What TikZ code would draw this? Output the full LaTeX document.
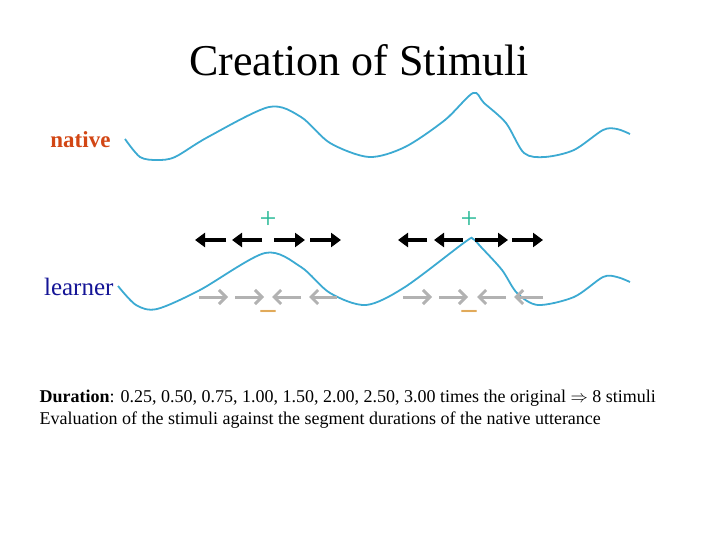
\documentclass[tikz,border=0pt]{standalone}
\usepackage{fontspec}
\setmainfont{Liberation Serif}
\usetikzlibrary{arrows.meta}
\definecolor{curve}{RGB}{60,170,210}
\definecolor{nat}{RGB}{210,70,20}
\definecolor{lrn}{RGB}{20,20,150}
\definecolor{plus}{RGB}{40,185,150}
\definecolor{minus}{RGB}{225,170,90}
\tikzset{
  wave/.style={curve,line width=1.8pt,smooth,tension=0.5},
  blk/.style={black,line width=4pt,-{Triangle[length=10pt,width=14pt]}},
  gry/.style={black!30,line width=3pt,-{Straight Barb[length=7pt,width=14pt]}},
}
\begin{document}
\begin{tikzpicture}[x=1pt,y=-1pt]
\useasboundingbox (0,0) rectangle (720,540);
\node (title) at (359,60) {\fontsize{44}{46}\selectfont Creation of Stimuli};
\node[anchor=east,text=nat,font=\fontsize{23}{25}\selectfont\bfseries] (native) at (114,140) {native};
\node[anchor=east,text=lrn,font=\fontsize{25}{27}\selectfont] (learner) at (117,287) {learner};
\draw[wave] plot coordinates {(125,139) (140,157) (157,160) (175,157) (208,137) (269,107) (301,117) (330,143) (369,157) (405,147) (445,120) (473,93) (484,103) (506,123) (524,153) (545,157) (574,150) (603,130) (617,129) (630,134)};
\draw[wave] plot coordinates {(118,286) (136,305) (157,309) (200,290) (265,253) (301,267) (330,293) (366,305) (405,287) (465,242) (473,239) (481,247) (502,270) (517,293) (538,305) (574,297) (603,277) (617,277) (630,282)};
\node[text=plus,font=\fontsize{30}{30}\selectfont] (p1) at (268,220) {+};
\node[text=plus,font=\fontsize{30}{30}\selectfont] (p2) at (469,220) {+};
\node[text=minus,font=\fontsize{30}{30}\selectfont\bfseries] (m1) at (268,314) {--};
\node[text=minus,font=\fontsize{30}{30}\selectfont\bfseries] (m2) at (469,314) {--};
\foreach \a/\b in {226/195,262/232,274/305,310/341,427/398,463/434,475/508,512/543}
  \draw[blk] (\a,240) -- (\b,240);
\foreach \a/\b in {199/228,235/264,301/272,337/309,403/432,439/468,506/477,543/514}
  \draw[gry] (\a,297) -- (\b,297);
\node[anchor=west,font=\fontsize{18}{20}\selectfont] (dur) at (36,398) {\textbf{Duration}: 0.25, 0.50, 0.75, 1.00, 1.50, 2.00, 2.50, 3.00 times the original $\Rightarrow$ 8 stimuli};
\node[anchor=west,font=\fontsize{18}{20}\selectfont] (ev) at (36,420) {Evaluation of the stimuli against the segment durations of the native utterance};
\end{tikzpicture}
\end{document}
